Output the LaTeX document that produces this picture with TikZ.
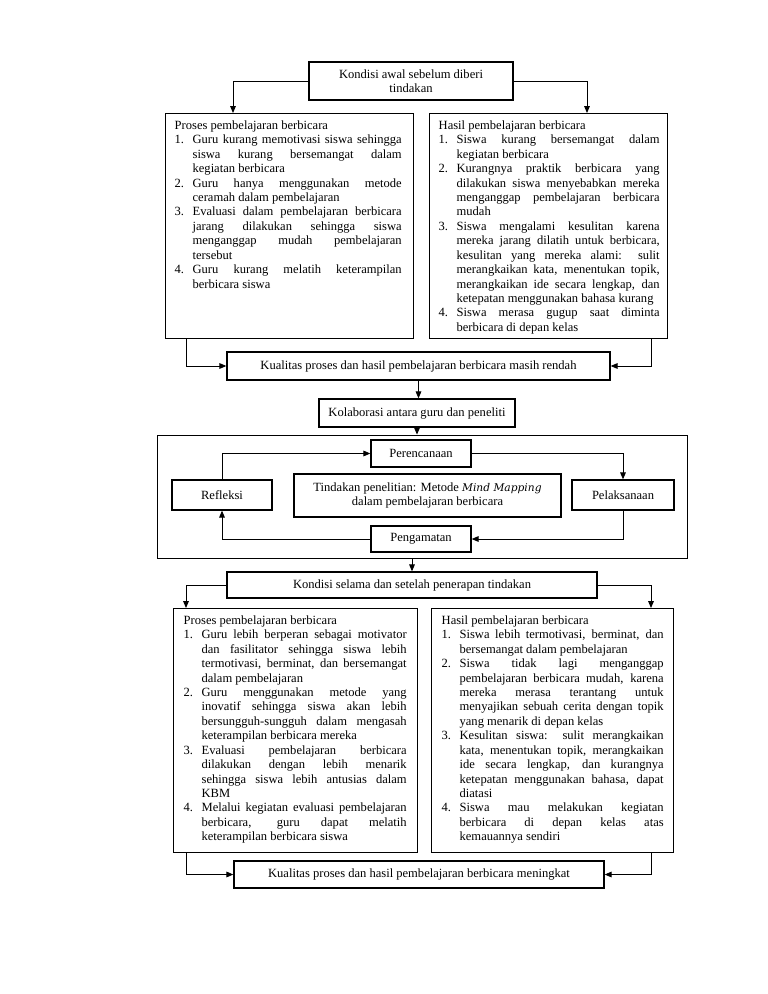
\documentclass[tikz,border=0pt]{standalone}
\usepackage{fontspec}
\setmainfont{Liberation Serif}
\newfontfamily\mmfont{DejaVu Serif}
\usetikzlibrary{arrows.meta}
\newlength\px
\setlength{\px}{0.796875pt}
\newcommand\ttl[1]{\noindent #1}
\newcommand\itm[2]{\par\noindent\hangindent=14.3pt\hangafter=1\makebox[14.3pt][l]{#1.}#2}
\newcommand\boxtext[5]{\parbox[c][#2][t]{#1}{\vspace*{5.5pt}\leftskip=#3\rightskip=#4\relax
  \hyphenpenalty=10000\exhyphenpenalty=10000\tolerance=10000\hbadness=10000\parfillskip=0pt plus 1fil #5}}
\begin{document}
\begin{tikzpicture}[x=0.796875pt,y=-0.796875pt,
  font=\fontsize{10}{11.5}\selectfont,
  box/.style={draw, line width=1.1pt, inner sep=0pt, align=center},
  arr/.style={line width=0.7pt, -{Triangle[length=5.5pt,width=4.5pt]}},
]
\useasboundingbox (0,0) rectangle (768,994);
\fill[white] (0,0) rectangle (768,994);

\node[box, line width=1.4pt, minimum width={204*\px}, minimum height={38*\px}] (top) at (411,81)
  {Kondisi awal sebelum diberi\\tindakan};

\node[box, anchor=north west] (UL) at (165,113) {\boxtext{248\px}{225\px}{9\px}{12\px}{%
\ttl{Proses pembelajaran berbicara}
\itm{1}{Guru kurang memotivasi siswa sehingga\linebreak siswa kurang bersemangat dalam\linebreak kegiatan berbicara}
\itm{2}{Guru hanya menggunakan metode\linebreak ceramah dalam pembelajaran}
\itm{3}{Evaluasi dalam pembelajaran berbicara\linebreak jarang dilakukan sehingga siswa\linebreak menganggap mudah pembelajaran\linebreak tersebut}
\itm{4}{Guru kurang melatih keterampilan\linebreak berbicara siswa}}};

\node[box, anchor=north west] (UR) at (429,113) {\boxtext{238\px}{225\px}{9\px}{8\px}{%
\ttl{Hasil pembelajaran berbicara}
\itm{1}{Siswa kurang bersemangat dalam\linebreak kegiatan berbicara}
\itm{2}{Kurangnya praktik berbicara yang\linebreak dilakukan siswa menyebabkan mereka\linebreak menganggap pembelajaran berbicara\linebreak mudah}
\itm{3}{Siswa mengalami kesulitan karena\linebreak mereka jarang dilatih untuk berbicara,\linebreak kesulitan yang mereka alami: sulit\linebreak merangkaikan kata, menentukan topik,\linebreak merangkaikan ide secara lengkap, dan\linebreak ketepatan menggunakan bahasa kurang}
\itm{4}{Siswa merasa gugup saat diminta\linebreak berbicara di depan kelas}}};

\node[box, minimum width={383*\px}, minimum height={28*\px}] (KR) at (418.5,366)
  {Kualitas proses dan hasil pembelajaran berbicara masih rendah};
\node[box, minimum width={196*\px}, minimum height={28*\px}] (KO) at (417,413)
  {Kolaborasi antara guru dan peneliti};

\node[draw, line width=0.7pt, inner sep=0pt, minimum width={530*\px}, minimum height={123*\px}] (FR) at (422,496.5) {};
\node[box, minimum width={100*\px}, minimum height={27*\px}] (PR) at (421,453.5) {Perencanaan};
\node[box, minimum width={100*\px}, minimum height={30*\px}] (RF) at (222,495) {Refleksi};
\node[box, minimum width={267*\px}, minimum height={43*\px}] (TD) at (427.5,495.5)
  {Tindakan penelitian: Metode {\mmfont\itshape\fontsize{8.5}{10}\selectfont Mind Mapping}\\dalam pembelajaran berbicara};
\node[box, minimum width={102*\px}, minimum height={30*\px}] (PL) at (623,495) {Pelaksanaan};
\node[box, minimum width={100*\px}, minimum height={26*\px}] (PG) at (421,539) {Pengamatan};

\node[box, minimum width={370*\px}, minimum height={26*\px}] (KS) at (412,585)
  {Kondisi selama dan setelah penerapan tindakan};

\node[box, anchor=north west] (LL) at (173,608) {\boxtext{244\px}{244\px}{10\px}{11\px}{%
\ttl{Proses pembelajaran berbicara}
\itm{1}{Guru lebih berperan sebagai motivator\linebreak dan fasilitator sehingga siswa lebih\linebreak termotivasi, berminat, dan bersemangat\linebreak dalam pembelajaran}
\itm{2}{Guru menggunakan metode yang\linebreak inovatif sehingga siswa akan lebih\linebreak bersungguh-sungguh dalam mengasah\linebreak keterampilan berbicara mereka}
\itm{3}{Evaluasi pembelajaran berbicara\linebreak dilakukan dengan lebih menarik\linebreak sehingga siswa lebih antusias dalam\linebreak KBM}
\itm{4}{Melalui kegiatan evaluasi pembelajaran\linebreak berbicara, guru dapat melatih\linebreak keterampilan berbicara siswa}}};

\node[box, anchor=north west] (LR) at (431,608) {\boxtext{242\px}{244\px}{10\px}{10\px}{%
\ttl{Hasil pembelajaran berbicara}
\itm{1}{Siswa lebih termotivasi, berminat, dan\linebreak bersemangat dalam pembelajaran}
\itm{2}{Siswa tidak lagi menganggap\linebreak pembelajaran berbicara mudah, karena\linebreak mereka merasa terantang untuk\linebreak menyajikan sebuah cerita dengan topik\linebreak yang menarik di depan kelas}
\itm{3}{Kesulitan siswa: sulit merangkaikan\linebreak kata, menentukan topik, merangkaikan\linebreak ide secara lengkap, dan kurangnya\linebreak ketepatan menggunakan bahasa, dapat\linebreak diatasi}
\itm{4}{Siswa mau melakukan kegiatan\linebreak berbicara di depan kelas atas\linebreak kemauannya sendiri}}};

\node[box, minimum width={370*\px}, minimum height={27*\px}] (KM) at (419,874.5)
  {Kualitas proses dan hasil pembelajaran berbicara meningkat};

% connectors
\coordinate (c1) at (233,113);
\coordinate (c2) at (587,113);
\coordinate (c3) at (186,338);
\coordinate (c4) at (651,338);
\coordinate (c6) at (186,608);
\coordinate (c7) at (651,608);
\coordinate (c8) at (186,852);
\coordinate (c9) at (651,852);

\draw[arr] (top.west) -| (c1);
\draw[arr] (top.east) -| (c2);
\draw[arr] (c3) |- (KR.west);
\draw[arr] (c4) |- (KR.east);
\draw[arr] (KR.south) -- (KR.south |- KO.north);
\draw[arr] (KO.south) -- (KO.south |- FR.north);
\draw[arr] (RF.north) |- (PR.west);
\draw[arr] (PR.east) -| (PL.north);
\draw[arr] (PL.south) |- (PG.east);
\draw[arr] (PG.west) -| (RF.south);
\draw[arr] (KS.north |- FR.south) -- (KS.north);
\draw[arr] (KS.west) -| (c6);
\draw[arr] (KS.east) -| (c7);
\draw[arr] (c8) |- (KM.west);
\draw[arr] (c9) |- (KM.east);
\end{tikzpicture}
\end{document}
